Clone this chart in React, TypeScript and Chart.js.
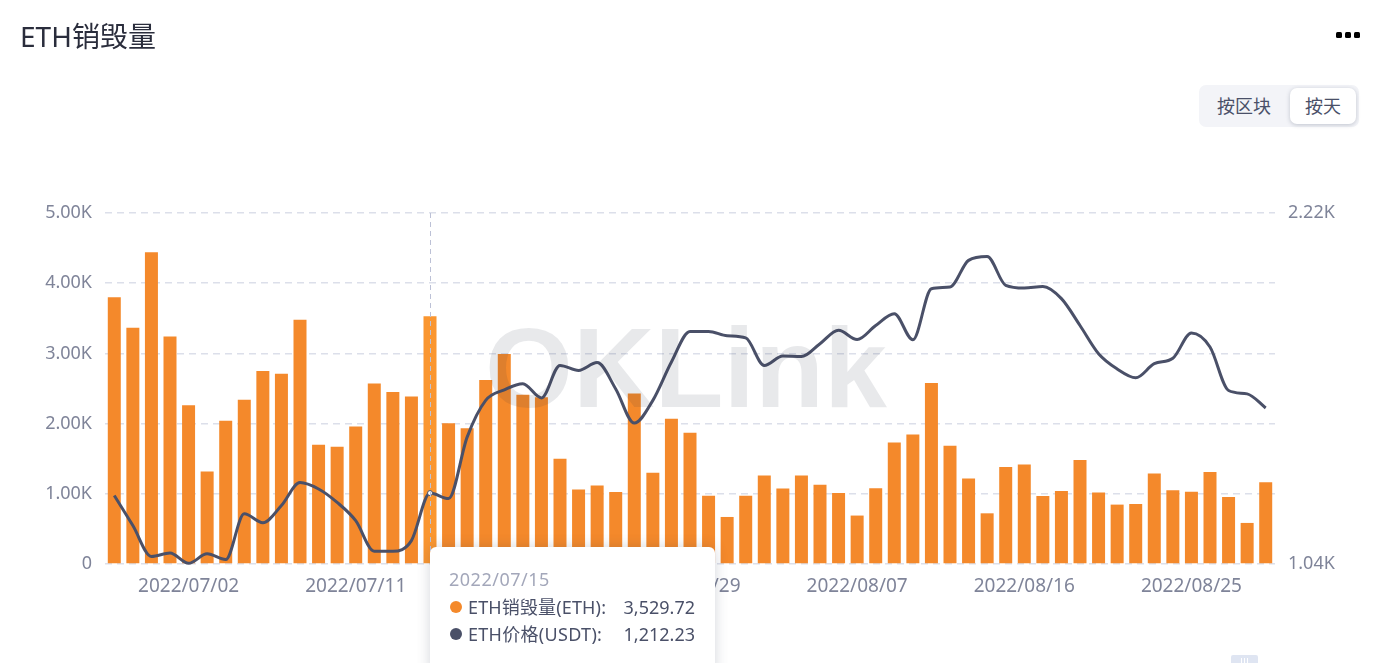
import React, { useEffect, useRef } from "react";
import { Chart, registerables } from "chart.js";

Chart.register(...registerables);

const dates = [
  "2022/06/28","2022/06/29","2022/06/30","2022/07/01","2022/07/02","2022/07/03","2022/07/04","2022/07/05","2022/07/06",
  "2022/07/07","2022/07/08","2022/07/09","2022/07/10","2022/07/11","2022/07/12","2022/07/13","2022/07/14","2022/07/15",
  "2022/07/16","2022/07/17","2022/07/18","2022/07/19","2022/07/20","2022/07/21","2022/07/22","2022/07/23","2022/07/24",
  "2022/07/25","2022/07/26","2022/07/27","2022/07/28","2022/07/29","2022/07/30","2022/07/31","2022/08/01","2022/08/02",
  "2022/08/03","2022/08/04","2022/08/05","2022/08/06","2022/08/07","2022/08/08","2022/08/09","2022/08/10","2022/08/11",
  "2022/08/12","2022/08/13","2022/08/14","2022/08/15","2022/08/16","2022/08/17","2022/08/18","2022/08/19","2022/08/20",
  "2022/08/21","2022/08/22","2022/08/23","2022/08/24","2022/08/25","2022/08/26","2022/08/27","2022/08/28","2022/08/29",
];
const burned = [
  3800,3365,4440,3240,2260,1317,2040,2340,2750,2710,3480,1700,1670,1960,2570,2450,2385,3529.72,
  2006,1934,2620,2990,2410,2376,1500,1060,1117,1027,2430,1300,2070,1868,974,670,974,1260,1074,1260,1130,1012,
  690,1080,1730,1844,2580,1683,1217,722,1383,1416,970,1040,1483,1017,846,855,1288,1050,1030,1310,955,585,1164,
];
const price = [
  1206,1130,1057,1065,1041.5,1063,1050,1159,1137,1180,1240,1223,1188,1142,1069,1069,1094,1212.23,
  1198,1368,1481,1515,1535,1489,1597,1580,1607,1518,1410,1481,1609,1719,1719,1703,1695,1597,1630,1628,1674,1723,
  1689,1741,1786,1688,1885,1892,2004,2021,1899,1888,1894,1845,1741,1638,1585,1555,1603,1622,1713,1662,1513,1502,1457,
];
const burnTicksMax = 5000;
const priceRange = [1040, 2220];
const activeIndex = 17;
const firstLabelIndex = 4;
const labelEvery = 9;

const FONT = '"Noto Sans", "Noto Sans CJK SC", sans-serif';
const fmt = (v: number) => v.toLocaleString("en-US", { minimumFractionDigits: 2, maximumFractionDigits: 2 });
const kfmt = (v: number) => (v === 0 ? "0" : (v / 1000).toFixed(2) + "K");

const crosshair = {
  id: "crosshair",
  afterDatasetsDraw(chart: any) {
    const { ctx, chartArea, scales } = chart;
    const x = Math.round(scales.x.getPixelForValue(activeIndex)) + 0.5;
    ctx.save();
    ctx.strokeStyle = "#bcc1d6";
    ctx.lineWidth = 1;
    ctx.setLineDash([5, 4]);
    ctx.beginPath();
    ctx.moveTo(x, chartArea.top);
    ctx.lineTo(x, chartArea.bottom);
    ctx.stroke();
    ctx.restore();
  },
};

export default function App() {
  const ref = useRef<HTMLCanvasElement>(null);
  useEffect(() => {
    document.body.style.margin = "0";
    document.body.style.overflow = "hidden";
    const chart = new Chart(ref.current!, {
      type: "bar",
      data: {
        labels: dates,
        datasets: [
          {
            type: "line",
            label: "ETH价格(USDT)",
            data: price,
            yAxisID: "y1",
            borderColor: "#4a5068",
            borderWidth: 3,
            cubicInterpolationMode: "monotone",
            pointRadius: price.map((_, i) => (i === activeIndex ? 2.5 : 0)),
            pointBackgroundColor: "#ffffff",
            pointBorderColor: "#4a5068",
            pointBorderWidth: 1,
            clip: false,
            order: 0,
          } as any,
          {
            type: "bar",
            label: "ETH销毁量(ETH)",
            data: burned,
            yAxisID: "y",
            backgroundColor: burned.map((_, i) => (i === activeIndex ? "#fa9630" : "#f4892b")),
            barPercentage: 0.7,
            categoryPercentage: 1,
            order: 1,
          } as any,
        ],
      },
      options: {
        animation: false,
        responsive: false,
        events: [],
        layout: { padding: { top: 213, left: 0, right: 0, bottom: 0 } },
        plugins: { legend: { display: false }, tooltip: { enabled: false } },
        scales: {
          x: {
            grid: { display: false },
            border: { display: false },
            afterFit: (s: any) => { s.height = 99; },
            ticks: {
              autoSkip: false,
              maxRotation: 0,
              padding: 3,
              color: "#7f8499",
              font: { family: FONT, size: 19 },
              callback: (_: any, i: number) => ((i - firstLabelIndex) % labelEvery === 0 && i >= firstLabelIndex ? dates[i] : ""),
            },
          },
          y: {
            position: "left",
            min: 0,
            max: burnTicksMax,
            afterFit: (s: any) => { s.width = 105; },
            border: { display: false, dash: [7, 5] },
            grid: { color: "#dcdfea", lineWidth: 1.5, drawTicks: false },
            ticks: {
              stepSize: 1000,
              padding: 13,
              color: "#7f8499",
              font: { family: FONT, size: 18 },
              callback: (v: any) => kfmt(Number(v)),
            },
          },
          y1: {
            type: "logarithmic",
            position: "right",
            min: priceRange[0],
            max: priceRange[1],
            afterFit: (s: any) => { s.width = 103; },
            afterBuildTicks: (s: any) => { s.ticks = priceRange.map((value) => ({ value })); },
            border: { display: false },
            grid: { display: false, drawTicks: false },
            ticks: {
              padding: 13,
              color: "#7f8499",
              font: { family: FONT, size: 18 },
              callback: (v: any) => kfmt(Number(v)),
            },
          },
        },
      },
      plugins: [crosshair],
    } as any);
    return () => chart.destroy();
  }, []);

  const abs = (s: React.CSSProperties): React.CSSProperties => ({ position: "absolute", whiteSpace: "nowrap", ...s });
  return (
    <div style={{ position: "fixed", left: 0, top: 0, width: 1378, height: 663, overflow: "hidden", background: "#fff", fontFamily: FONT }}>
      <canvas ref={ref} width={1378} height={663} style={{ position: "absolute", left: 0, top: 0, width: 1378, height: 663 }} />
      <div style={abs({ left: 485, top: 302, fontFamily: '"Liberation Sans", sans-serif', fontWeight: 700, fontSize: 113, lineHeight: "132px", color: "rgba(40,50,70,0.105)", pointerEvents: "none" })}>OKLink</div>
      <div style={abs({ left: 20, top: 16, fontSize: 28, lineHeight: "40px", color: "#2a2d3c" })}>ETH销毁量</div>
      {[1336, 1345, 1354].map((x) => (
        <div key={x} style={abs({ left: x, top: 32, width: 6, height: 6, borderRadius: 1.5, background: "#000" })} />
      ))}
      <div style={abs({ left: 1199, top: 85, width: 160, height: 42, borderRadius: 7, background: "#f3f4f8" })} />
      <div style={abs({ left: 1290, top: 88, width: 66, height: 36, borderRadius: 7, background: "#fff", boxShadow: "0 1px 4px rgba(40,50,80,0.25)" })} />
      <div style={abs({ left: 1217, top: 92, fontSize: 18, lineHeight: "28px", color: "#4a5068" })}>按区块</div>
      <div style={abs({ left: 1305, top: 92, fontSize: 18, lineHeight: "28px", color: "#4a5068" })}>按天</div>
      <div style={abs({ left: 430, top: 547, width: 285, height: 130, borderRadius: 6, background: "#fff", boxShadow: "0 0 14px rgba(40,50,80,0.2)" })} />
      <div style={abs({ left: 449, top: 565, fontSize: 18, letterSpacing: 0.5, lineHeight: "28px", color: "#a3a7ba" })}>{dates[activeIndex]}</div>
      <div style={abs({ left: 450, top: 601, width: 12, height: 12, borderRadius: 6, background: "#f4892b" })} />
      <div style={abs({ left: 468, top: 593, fontSize: 18, letterSpacing: 0.15, lineHeight: "28px", color: "#4a5068" })}>ETH销毁量(ETH):</div>
      <div style={abs({ right: 1378 - 695, top: 593, fontSize: 18, lineHeight: "28px", color: "#4a5068" })}>{fmt(burned[activeIndex])}</div>
      <div style={abs({ left: 450, top: 628, width: 12, height: 12, borderRadius: 6, background: "#4a5068" })} />
      <div style={abs({ left: 468, top: 620, fontSize: 18, letterSpacing: 0.3, lineHeight: "28px", color: "#4a5068" })}>ETH价格(USDT):</div>
      <div style={abs({ right: 1378 - 695, top: 620, fontSize: 18, lineHeight: "28px", color: "#4a5068" })}>{fmt(price[activeIndex])}</div>
      <div style={abs({ left: 1231, top: 655, width: 27, height: 12, borderRadius: 2, background: "#dfe5f2" })} />
      {[1241, 1244, 1247].map((x) => (
        <div key={x} style={abs({ left: x, top: 658, width: 1, height: 5, background: "#fff" })} />
      ))}
    </div>
  );
}
